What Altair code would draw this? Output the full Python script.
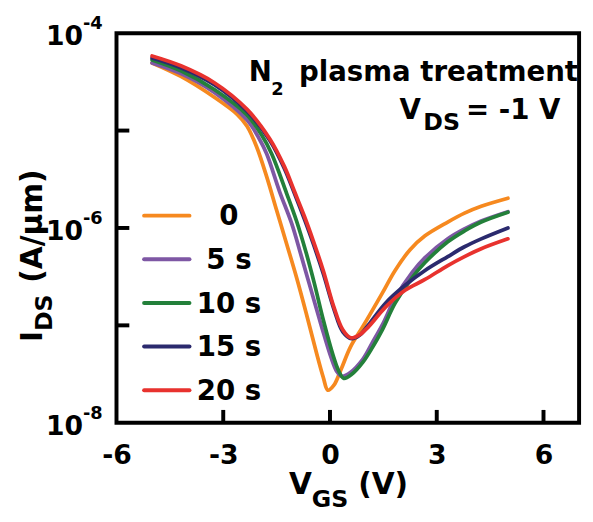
import altair as alt
import pandas as pd

# ---------------- data ----------------
series_labels = ["0", "5 s", "10 s", "15 s", "20 s"]
series_colors = ["#F6891F", "#7E57A4", "#23803A", "#2B2A6E", "#E8322E"]

vgs_0 = [-5.0, -4.19, -3.25, -2.61, -2.33, -2.06, -1.78, -1.5, -1.22, -0.94, -0.67, -0.39, -0.19,
         -0.06, 0.11, 0.31, 0.58, 0.92, 1.47, 1.83, 2.25, 2.67, 3.31, 3.78, 4.25, 5.0]
ids_0 = [4.95e-5, 3.6e-5, 2.2e-5, 1.47e-5, 1.11e-5, 6.79e-6, 3.37e-6, 1.52e-6, 6.89e-7, 3.10e-7,
         1.34e-7, 5.38e-8, 2.93e-8, 2.16e-8, 2.43e-8, 3.53e-8, 6.05e-8, 9.66e-8, 2.14e-7, 3.66e-7,
         5.98e-7, 8.30e-7, 1.15e-6, 1.42e-6, 1.67e-6, 2.02e-6]

vgs_5 = [-5.0, -4.19, -3.25, -2.33, -2.0, -1.78, -1.42, -1.08, -0.81, -0.53, -0.25, 0.03, 0.19,
         0.33, 0.58, 0.92, 1.19, 1.47, 1.83, 2.31, 2.67, 3.31, 3.78, 4.25, 5.0]
ids_5 = [4.95e-5, 3.84e-5, 2.46e-5, 1.28e-5, 8.39e-6, 5.77e-6, 2.38e-6, 1.12e-6, 5.20e-7, 2.29e-7,
         1.01e-7, 4.68e-8, 3.37e-8, 3.0e-8, 3.30e-8, 4.47e-8, 6.64e-8, 1.01e-7, 1.90e-7, 3.49e-7,
         4.95e-7, 7.73e-7, 9.77e-7, 1.18e-6, 1.47e-6]

vgs_10 = [-5.0, -4.19, -3.25, -2.33, -1.92, -1.64, -1.22, -0.94, -0.67, -0.44, -0.19, 0.08, 0.25,
          0.39, 0.61, 0.92, 1.19, 1.47, 1.83, 2.31, 2.67, 3.31, 3.78, 4.25, 5.0]
ids_10 = [5.32e-5, 4.11e-5, 2.64e-5, 1.44e-5, 8.99e-6, 5.77e-6, 2.27e-6, 1.18e-6, 5.57e-7, 2.70e-7,
          1.14e-7, 5.02e-8, 3.37e-8, 2.86e-8, 3.14e-8, 4.16e-8, 5.91e-8, 9.0e-8, 1.69e-7, 3.10e-7,
          4.42e-7, 7.21e-7, 9.33e-7, 1.15e-6, 1.45e-6]

vgs_15 = [-5.0, -4.19, -3.25, -2.33, -1.69, -1.28, -1.0, -0.72, -0.47, -0.19, 0.11, 0.36, 0.61,
          0.83, 1.08, 1.56, 2.11, 2.67, 3.31, 3.78, 4.25, 5.0]
ids_15 = [5.57e-5, 4.42e-5, 2.96e-5, 1.58e-5, 7.9e-6, 4.06e-6, 2.27e-6, 1.23e-6, 6.89e-7, 3.41e-7,
          1.47e-7, 8.59e-8, 7.3e-8, 7.9e-8, 1.01e-7, 1.69e-7, 2.58e-7, 3.66e-7, 5.08e-7, 6.41e-7,
          7.73e-7, 1.0e-6]

vgs_20 = [-5.0, -4.19, -3.25, -2.33, -1.69, -1.28, -1.0, -0.72, -0.47, -0.19, 0.11, 0.36, 0.58,
          0.83, 1.08, 1.56, 2.11, 2.67, 3.31, 3.78, 4.25, 5.0]
ids_20 = [5.83e-5, 4.62e-5, 3.10e-5, 1.65e-5, 8.2e-6, 4.26e-6, 2.38e-6, 1.32e-6, 7.38e-7, 3.66e-7,
          1.54e-7, 9.0e-8, 7.46e-8, 8.0e-8, 9.66e-8, 1.54e-7, 2.29e-7, 2.96e-7, 4.11e-7, 5.08e-7,
          6.12e-7, 7.73e-7]

x_label_values = [-6, -3, 0, 3, 6]
x_inner_ticks = [-3, 0, 3, 6]
y_label_values = [1e-4, 1e-6, 1e-8]
y_label_exps = ["-4", "-6", "-8"]
y_inner_ticks = [1e-5, 1e-6, 1e-7]

# ---------------- chart ----------------
W, H = 469, 395
FONT = "DejaVu Sans"
BOLD = "bold"

rows = []
for lab, vs, iv in zip(series_labels,
                       [vgs_0, vgs_5, vgs_10, vgs_15, vgs_20],
                       [ids_0, ids_5, ids_10, ids_15, ids_20]):
    for v, i in zip(vs, iv):
        rows.append({"series": lab, "V": v, "I": i})
df = pd.DataFrame(rows)

xscale = alt.Scale(domain=[-6, 7], nice=False, zero=False)
yscale = alt.Scale(type="log", domain=[1e-8, 1e-4], nice=False)

xaxis = alt.Axis(values=x_label_values, title=None, grid=False, domain=False, ticks=False,
                 tickSize=0, labelFont=FONT, labelFontWeight=BOLD, labelFontSize=27,
                 labelColor="black", labelPadding=20, labelFlush=False, labelOverlap=False,
                 labelExpr="'' + datum.value")

layers = []

# curves
for lab, col in zip(series_labels, series_colors):
    layers.append(
        alt.Chart(df[df["series"] == lab]).mark_line(
            color=col, strokeWidth=3.8, interpolate="catmull-rom", strokeCap="round"
        ).encode(
            x=alt.X("V:Q", scale=xscale, axis=xaxis),
            y=alt.Y("I:Q", scale=yscale, axis=None),
        )
    )

# inward ticks
layers.append(
    alt.Chart(pd.DataFrame({"V": x_inner_ticks})).mark_rule(color="black", strokeWidth=4).encode(
        x=alt.X("V:Q", scale=xscale, axis=xaxis),
        y=alt.value(H), y2=alt.value(H - 13),
    )
)
layers.append(
    alt.Chart(pd.DataFrame({"I": y_inner_ticks})).mark_rule(color="black", strokeWidth=4).encode(
        y=alt.Y("I:Q", scale=yscale, axis=None),
        x=alt.value(0), x2=alt.value(13),
    )
)

# y tick labels 10^n
ylab = pd.DataFrame({"I": y_label_values, "exp": y_label_exps})
layers.append(
    alt.Chart(ylab).mark_text(text="10", align="right", baseline="alphabetic", dy=12,
                              font=FONT, fontWeight=BOLD, fontSize=27, color="black").encode(
        x=alt.value(-34), y=alt.Y("I:Q", scale=yscale, axis=None)
    )
)
layers.append(
    alt.Chart(ylab).mark_text(align="left", baseline="alphabetic", dy=-4,
                              font=FONT, fontWeight=BOLD, fontSize=18, color="black").encode(
        x=alt.value(-34), y=alt.Y("I:Q", scale=yscale, axis=None), text="exp:N"
    )
)

# legend
for k, (lab, col) in enumerate(zip(series_labels, series_colors)):
    ly = 185 + 44.25 * k
    ld = pd.DataFrame({"series": [lab]})
    layers.append(
        alt.Chart(ld).mark_rule(color=col, strokeWidth=4, strokeCap="round").encode(
            x=alt.value(28), x2=alt.value(74), y=alt.value(ly)
        )
    )
    layers.append(
        alt.Chart(ld).mark_text(align="center", baseline="alphabetic", dy=10, font=FONT,
                                fontWeight=BOLD, fontSize=28, color="black").encode(
            x=alt.value(114), y=alt.value(ly), text="series:N"
        )
    )


def label(txt, x, y, size, align="left", angle=0):
    kw = dict(align=align, baseline="alphabetic", font=FONT, fontWeight=BOLD,
              fontSize=size, color="black")
    if angle:
        kw["angle"] = angle
    return alt.Chart(pd.DataFrame({"t": [txt]})).mark_text(**kw).encode(
        x=alt.value(x), y=alt.value(y), text="t:N"
    )


# annotation
layers += [
    label("N", 134, 49, 28),
    label("2", 157, 63, 18),
    label("plasma treatment", 185, 49, 28),
    label("V", 287, 87, 28),
    label("DS", 311, 98, 24),
    label("= -1 V", 450, 87, 28, align="right"),
]

# axis titles
layers += [
    label("V", 175, 467, 30),
    label("GS", 198, 480, 24),
    label("(V)", 245, 467, 30),
    label("I", -76, 313, 30, angle=270),
    label("DS", -65, 302, 24, angle=270),
    label("(A/\u03bcm)", -76, 253, 30, angle=270),
]

chart = alt.layer(*layers).properties(
    width=W, height=H,
    autosize=alt.AutoSizeParams(type="none"),
    padding={"left": 110, "top": 22, "right": 6, "bottom": 90},
    background="white",
).configure_view(stroke="black", strokeWidth=4)

chart.save("out.html", embed_options={"renderer": "svg", "actions": False})
